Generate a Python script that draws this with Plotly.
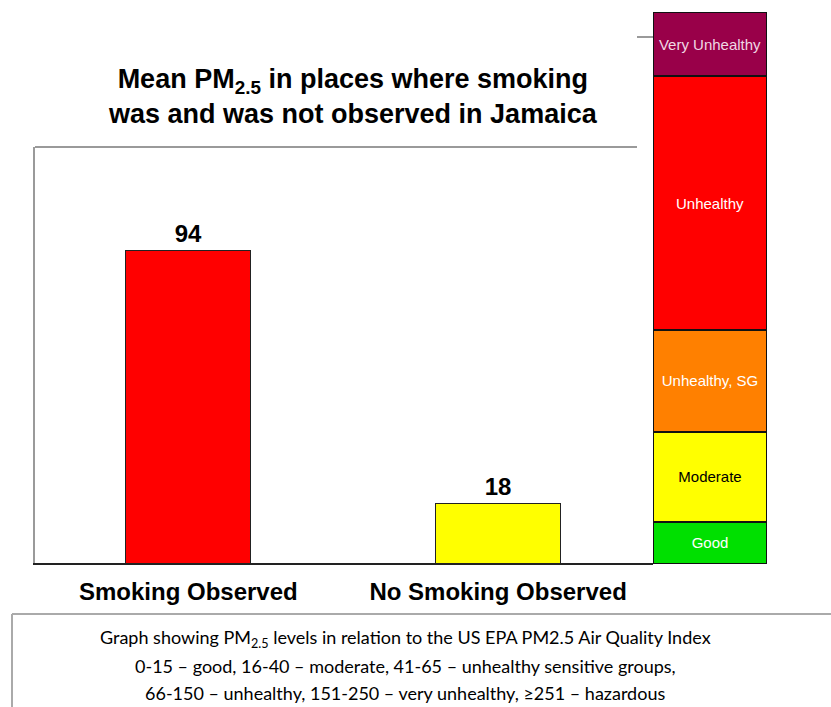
import plotly.graph_objects as go

# ---- data ----
categories = ["Smoking Observed", "No Smoking Observed"]
values = [94, 18]
bar_colors = ["#FF0000", "#FFFF00"]

aqi_labels = ["Good", "Moderate", "Unhealthy, SG", "Unhealthy", "Very Unhealthy"]
aqi_values = [12.7, 27.1, 30.7, 76.5, 19.3]
aqi_colors = ["#00E000", "#FFFF00", "#FF8000", "#FF0000", "#990049"]
aqi_text_colors = ["#FFFFFF", "#000000", "#FFFFFF", "#FFFFFF", "#F0D8E4"]

title_text = "Mean PM<sub>2.5</sub> in places where smoking<br>was and was not observed in Jamaica"
caption_lines = [
    "Graph showing PM<sub>2.5</sub> levels in relation to the US EPA PM2.5 Air Quality Index",
    "0-15 – good, 16-40 – moderate, 41-65 – unhealthy sensitive groups,",
    "66-150 – unhealthy, 151-250 – very unhealthy, ≥251 – hazardous",
]

W, H = 831, 707
def px(x):
    return x / W
def py(y):
    return 1 - y / H

ARIAL = "Liberation Sans, Arial, sans-serif"
NARROW = "Liberation Sans Narrow, Arial Narrow, Liberation Sans, sans-serif"

fig = go.Figure()

fig.add_trace(go.Bar(
    x=categories, y=values, width=0.403,
    marker=dict(color=bar_colors, line=dict(color="#222222", width=1)),
    texttemplate="%{y}", textposition="outside", cliponaxis=False,
    textfont=dict(family=ARIAL, size=24, color="#000000", weight="bold"),
    xaxis="x", yaxis="y", showlegend=False, hoverinfo="skip",
))

for lab, val, col, tcol in zip(aqi_labels, aqi_values, aqi_colors, aqi_text_colors):
    fig.add_trace(go.Bar(
        x=["AQI"], y=[val], width=1, name=lab,
        marker=dict(color=col, line=dict(color="#111111", width=1.5)),
        text=[lab], textposition="inside", insidetextanchor="middle",
        constraintext="none",
        textfont=dict(family=NARROW, size=15, color=tcol),
        xaxis="x2", yaxis="y2", showlegend=False, hoverinfo="skip",
    ))

fig.update_layout(
    width=W, height=H, autosize=False,
    margin=dict(l=0, r=0, t=0, b=0),
    paper_bgcolor="white", plot_bgcolor="rgba(0,0,0,0)",
    barmode="stack", showlegend=False,
    xaxis=dict(
        domain=[px(35), px(653)], type="category", range=[-0.495, 1.5],
        showline=True, linecolor="#222222", linewidth=2,
        showgrid=False, zeroline=False, ticks="",
        ticklabelstandoff=6,
        tickfont=dict(family=ARIAL, size=24, color="#000000", weight="bold"),
    ),
    yaxis=dict(
        domain=[py(563), py(147)], range=[0, 125],
        showline=True, linecolor="#9A9A9A", linewidth=2,
        showgrid=False, zeroline=False, showticklabels=False, ticks="",
    ),
    xaxis2=dict(
        domain=[px(653), px(767)], anchor="y2", range=[-0.5, 0.5],
        visible=False,
    ),
    yaxis2=dict(
        domain=[py(564), py(12)], anchor="x2", range=[0, sum(aqi_values)],
        visible=False,
    ),
)

shapes = [
    # top frame line of the plot area
    dict(type="line", xref="x domain", yref="y domain", x0=0, x1=(637 - 35) / 618,
         y0=1, y1=1, line=dict(color="#9A9A9A", width=2)),
    # small tick beside AQI column
    dict(type="line", xref="paper", yref="paper", x0=px(637), x1=px(653),
         y0=py(37), y1=py(37), line=dict(color="#9A9A9A", width=2)),
    # caption box
    dict(type="line", xref="paper", yref="paper", x0=px(12), x1=1,
         y0=py(614), y1=py(614), line=dict(color="#AAAAAA", width=2)),
    dict(type="line", xref="paper", yref="paper", x0=px(12), x1=px(12),
         y0=py(614), y1=0, line=dict(color="#AAAAAA", width=2)),
]
fig.update_layout(shapes=shapes)

annotations = [
    dict(text=title_text, xref="paper", yref="paper", x=px(353), y=py(97),
         xanchor="center", yanchor="middle", showarrow=False, align="center",
         font=dict(family=ARIAL, size=27, color="#000000", weight="bold")),
]
for i, line in enumerate(caption_lines):
    annotations.append(dict(
        text=line, xref="paper", yref="paper", x=px(405), y=py(638 + 27.5 * i),
        xanchor="center", yanchor="middle", showarrow=False,
        font=dict(family="Lato, Open Sans, sans-serif", size=18, color="#000000"),
    ))
fig.update_layout(annotations=annotations)

fig.write_html("out.html", config={"displayModeBar": False},
               post_script="document.body.style.margin='0';")
